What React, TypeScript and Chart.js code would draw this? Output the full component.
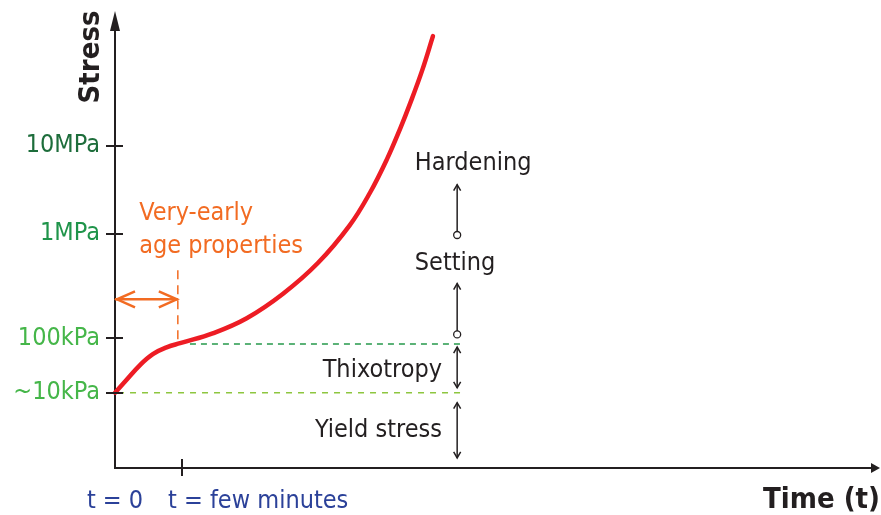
import { useEffect, useRef } from "react";
import { Chart, registerables } from "chart.js";

Chart.register(...registerables);

// ---- data (time units 0..100 along the axis, stress level units 0..100) ----
const curveTime = [0, 1.3, 3.3, 5.0, 6.9, 8.6, 13.0, 17.4, 22.2, 26.8, 31.0, 33.7, 35.9, 37.7, 39.0, 40.6, 42.0];
const curveStress = [17.2, 19.7, 23.5, 26.0, 27.6, 28.5, 30.8, 34.2, 39.8, 46.8, 55.4, 62.9, 70.4, 77.6, 83.3, 90.9, 98.6];

const yTickValues = [73.6, 53.5, 29.6, 17.2];
const yTickLabels = ["10MPa", "1MPa", "100kPa", "~10kPa"];
const yTickColors = ["#1d6d3b", "#1f944a", "#45b649", "#45b649"];

const xTickValues = [0, 8.85];
const xTickLabels = ["t = 0", "t = few minutes"];

const thixotropyLevel = 28.3;
const thixotropyStart = 9.9;
const yieldLevel = 17.2;
const yieldStart = 0.4;
const levelEnd = 46.2;

const earlyAgeEnd = 8.3;
const earlyAgeDashFrom = 29.4;
const earlyAgeDashTo = 45.5;
const earlyAgeArrowLevel = 38.5;

const stageX = 45.2;
const stageNames = ["Hardening", "Setting", "Thixotropy", "Yield stress"];
const stageArrowFrom = [53.2, 30.5, 18.3, 2.3];
const stageArrowTo = [64.7, 42.1, 27.6, 14.9];
const stageHasCircle = [true, true, false, false];

const FONT = "'DejaVu Sans Condensed', 'DejaVu Sans', Verdana, sans-serif";
const DARK = "#231f20";
const ORANGE = "#f26b22";
const BLUE = "#2b4199";

function openHead(ctx: CanvasRenderingContext2D, tx: number, ty: number, dx: number, dy: number, len: number, half: number) {
  const bx = tx - dx * len;
  const by = ty - dy * len;
  const px = -dy, py = dx;
  ctx.beginPath();
  ctx.moveTo(bx + px * half, by + py * half);
  ctx.lineTo(tx, ty);
  ctx.lineTo(bx - px * half, by - py * half);
  ctx.stroke();
}

const overlay = {
  id: "overlay",
  afterDraw(chart: any) {
    const { ctx, chartArea, scales } = chart;
    const xs = scales.x, ys = scales.y;
    const X = (v: number) => xs.getPixelForValue(v);
    const Y = (v: number) => ys.getPixelForValue(v);
    ctx.save();

    // axis arrowheads
    ctx.fillStyle = DARK;
    const ax = chartArea.left, ay = chartArea.bottom;
    ctx.beginPath();
    ctx.moveTo(ax, chartArea.top - 19);
    ctx.lineTo(ax - 5, chartArea.top + 1);
    ctx.lineTo(ax + 5, chartArea.top + 1);
    ctx.closePath();
    ctx.fill();
    ctx.beginPath();
    ctx.moveTo(chartArea.right + 8, ay);
    ctx.lineTo(chartArea.right - 1, ay - 5);
    ctx.lineTo(chartArea.right - 1, ay + 5);
    ctx.closePath();
    ctx.fill();

    // tick marks crossing the axes
    ctx.strokeStyle = DARK;
    ctx.lineWidth = 2;
    ys.ticks.forEach((t: any) => {
      const y = Math.round(Y(t.value));
      ctx.beginPath();
      ctx.moveTo(ax - 9, y);
      ctx.lineTo(ax + 8, y);
      ctx.stroke();
    });
    {
      const x = Math.round(X(xTickValues[1]));
      ctx.beginPath();
      ctx.moveTo(x, ay - 9);
      ctx.lineTo(x, ay + 8);
      ctx.stroke();
    }

    // x tick labels
    ctx.font = `25px ${FONT}`;
    ctx.fillStyle = BLUE;
    ctx.textBaseline = "alphabetic";
    ctx.textAlign = "center";
    ctx.fillText(xTickLabels[0], X(xTickValues[0]), ay + 40);
    ctx.textAlign = "left";
    ctx.fillText(xTickLabels[1], X(xTickValues[1]) - 14, ay + 40);

    // axis titles
    ctx.fillStyle = DARK;
    ctx.font = `bold 29px ${FONT}`;
    ctx.textAlign = "right";
    ctx.fillText("Time (t)", chart.width - 1, ay + 40);
    ctx.save();
    ctx.translate(ax - 24, chartArea.top + 27);
    ctx.rotate(-Math.PI / 2);
    ctx.textAlign = "center";
    ctx.textBaseline = "middle";
    ctx.fillText("Stress", 0, 0);
    ctx.restore();

    // orange double arrow heads
    ctx.strokeStyle = ORANGE;
    ctx.lineWidth = 2.5;
    const oy = Y(earlyAgeArrowLevel);
    openHead(ctx, X(0) + 2, oy, -1, 0, 18, 8);
    openHead(ctx, X(earlyAgeEnd) - 1, oy, 1, 0, 18, 8);

    // orange text
    ctx.fillStyle = ORANGE;
    ctx.font = `25px ${FONT}`;
    ctx.textAlign = "left";
    ctx.textBaseline = "alphabetic";
    ctx.fillText("Very-early", X(3.2), Y(56.6));
    ctx.fillText("age properties", X(3.2), Y(49.1));

    // stage arrow heads
    ctx.strokeStyle = DARK;
    ctx.lineWidth = 1.5;
    const sx = X(stageX);
    stageNames.forEach((_, i) => {
      openHead(ctx, sx, Y(stageArrowTo[i]), 0, -1, 6, 3.5);
      if (!stageHasCircle[i]) openHead(ctx, sx, Y(stageArrowFrom[i]), 0, 1, 6, 3.5);
    });

    // stage labels
    ctx.fillStyle = DARK;
    ctx.font = `25px ${FONT}`;
    ctx.textAlign = "left";
    ctx.fillText(stageNames[0], X(39.6), Y(68.1));
    ctx.fillText(stageNames[1], X(39.6), Y(45.2));
    ctx.textAlign = "right";
    ctx.fillText(stageNames[2], X(43.2), Y(20.8));
    ctx.fillText(stageNames[3], X(43.2), Y(7.0));

    ctx.restore();
  },
};

export default function App() {
  const ref = useRef<HTMLCanvasElement>(null);
  useEffect(() => {
    if (!ref.current) return;
    const line = (pts: { x: number; y: number }[], color: string, width: number, dash: number[] = [], extra: any = {}) => ({
      data: pts,
      borderColor: color,
      borderWidth: width,
      borderDash: dash,
      pointRadius: 0,
      fill: false,
      clip: false,
      tension: 0,
      ...extra,
    });
    const datasets: any[] = [
      line([{ x: yieldStart, y: yieldLevel }, { x: levelEnd, y: yieldLevel }], "#8dc63f", 1.5, [6, 6]),
      line([{ x: thixotropyStart, y: thixotropyLevel }, { x: levelEnd, y: thixotropyLevel }], "#26994b", 1.5, [6, 5]),
      line([{ x: earlyAgeEnd, y: earlyAgeDashFrom }, { x: earlyAgeEnd, y: earlyAgeDashTo }], ORANGE, 1.5, [9, 6]),
      line([{ x: 0, y: earlyAgeArrowLevel }, { x: earlyAgeEnd, y: earlyAgeArrowLevel }], ORANGE, 2.5),
      ...stageNames.map((_, i) =>
        line([{ x: stageX, y: stageArrowFrom[i] }, { x: stageX, y: stageArrowTo[i] }], DARK, 1.5, [], {
          pointRadius: [stageHasCircle[i] ? 3.5 : 0, 0],
          pointBackgroundColor: "#ffffff",
          pointBorderColor: DARK,
          pointBorderWidth: 1.3,
        })
      ),
      line(curveTime.map((t, i) => ({ x: t, y: curveStress[i] })), "#ed1c24", 4.5, [], {
        tension: 0.4,
        borderCapStyle: "round",
        borderJoinStyle: "round",
      }),
    ];
    const chart = new Chart(ref.current, {
      type: "line",
      data: { datasets },
      plugins: [overlay],
      options: {
        animation: false,
        responsive: true,
        maintainAspectRatio: false,
        devicePixelRatio: 1,
        layout: { padding: { left: 0, right: 9, top: 26, bottom: 0 } },
        plugins: { legend: { display: false }, tooltip: { enabled: false } },
        events: [],
        scales: {
          x: {
            type: "linear",
            min: 0,
            max: 100,
            position: "bottom",
            grid: { display: false, drawTicks: false },
            border: { display: true, color: DARK, width: 2 },
            ticks: { display: false },
            afterBuildTicks: (s: any) => {
              s.ticks = xTickValues.map((v) => ({ value: v }));
            },
            afterFit: (s: any) => {
              s.height = 47;
            },
          },
          y: {
            type: "linear",
            min: 0,
            max: 100,
            position: "left",
            grid: { display: false, drawTicks: false },
            border: { display: true, color: DARK, width: 2 },
            ticks: {
              autoSkip: false,
              padding: 15,
              font: { family: FONT, size: 25 },
              color: (c: any) => yTickColors[c.index] || DARK,
              callback: (_v: any, i: number) => yTickLabels[i],
            },
            afterBuildTicks: (s: any) => {
              s.ticks = yTickValues.map((v) => ({ value: v }));
            },
            afterFit: (s: any) => {
              s.width = 115;
            },
          },
        },
      } as any,
    });
    return () => chart.destroy();
  }, []);
  return (
    <div style={{ position: "absolute", left: 0, top: 0, width: 881, height: 515, background: "#fff" }}>
      <canvas ref={ref} />
    </div>
  );
}
